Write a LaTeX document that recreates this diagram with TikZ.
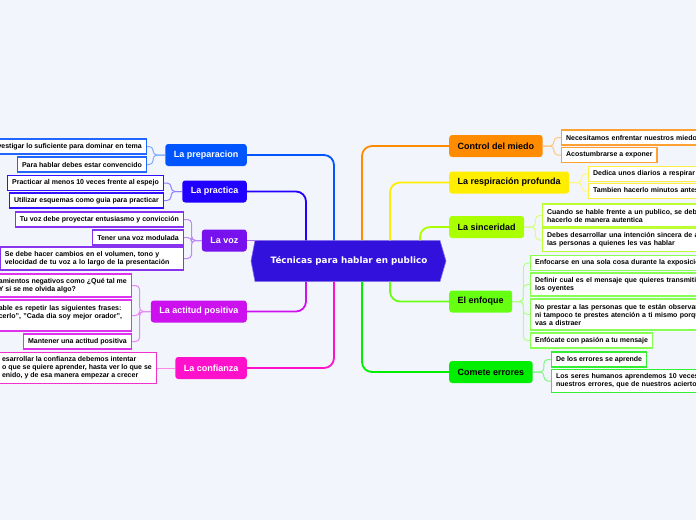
\documentclass[tikz,border=0pt]{standalone}
\usepackage{fontspec}
\setmainfont{Liberation Sans}
\newfontfamily\cfont{DejaVu Sans}
\definecolor{bgc}{HTML}{F3F5FD}
\definecolor{centc}{HTML}{3311DD}
\definecolor{prepc}{HTML}{0055FF}\definecolor{prepl}{HTML}{2266FF}
\definecolor{pracc}{HTML}{2200FF}\definecolor{pracl}{HTML}{3311FF}
\definecolor{vozc}{HTML}{7711EE}\definecolor{vozl}{HTML}{8833EE}
\definecolor{actc}{HTML}{CC11EE}\definecolor{actl}{HTML}{DD33EE}
\definecolor{confc}{HTML}{FF11CC}\definecolor{confl}{HTML}{EE33CC}
\definecolor{ctrlc}{HTML}{FF8C00}\definecolor{ctrll}{HTML}{FFA033}
\definecolor{respc}{HTML}{FFEE00}\definecolor{respl}{HTML}{FFEE44}
\definecolor{sincc}{HTML}{AAFF00}\definecolor{sincl}{HTML}{BBFF33}
\definecolor{enfc}{HTML}{66FF11}\definecolor{enfl}{HTML}{88FF55}
\definecolor{errc}{HTML}{00EE00}\definecolor{errl}{HTML}{33EE33}
\tikzset{
  branch/.style={fill=#1, rounded corners=3, minimum height=22, inner xsep=8.5, inner ysep=0, font=\fontsize{9}{10}\selectfont\bfseries},
  lbranch/.style={branch=#1, text=white},
  rbranch/.style={branch=#1, text=black},
  leaf/.style={draw=#1, fill=white, line width=1.3, inner xsep=4.5, inner ysep=0, font=\fontsize{7}{8}\selectfont\bfseries, align=left, text=black},
  trunk/.style={draw=#1, line width=1.8, rounded corners=10},
  twig/.style={draw=#1!50!white, line width=1, rounded corners=4},
}
\begin{document}
\begin{tikzpicture}[x=1pt,y=-1pt]
\useasboundingbox (0,0) rectangle (696,520);
\fill[bgc] (0,0) rectangle (696,520);
% central hexagon
\coordinate (cc) at (349,261);
\fill[centc, draw=centc!60!white, line width=0.6, shift={(cc)}] (-98,0) -- (-94,-20.5) -- (91,-20.5) -- (97,0) -- (91,20.5) -- (-94,20.5) -- cycle;
\node[font=\cfont\bfseries\fontsize{8.8}{10}\selectfont, text=white, minimum width=194, minimum height=41, inner sep=0] (c) at (cc) {Técnicas para hablar en publico};
\coordinate (vz) at ([xshift=5]c.north west);
% left branches
\node[lbranch=prepc, anchor=east] (nprep) at (247,155) {La preparacion};
\node[lbranch=pracc, anchor=east] (nprac) at (247,191.5) {La practica};
\node[lbranch=vozc, anchor=east] (nvoz) at (247,240.5) {La voz};
\node[lbranch=actc, anchor=east] (nact) at (247,311.5) {La actitud positiva};
\node[lbranch=confc, anchor=east] (nconf) at (247,368) {La confianza};
% right branches
\node[rbranch=ctrlc, anchor=west] (nctrl) at (449,146) {Control del miedo};
\node[rbranch=respc, anchor=west] (nresp) at (449,182.5) {La respiración profunda};
\node[rbranch=sincc, anchor=west] (nsinc) at (449,227) {La sinceridad};
\node[rbranch=enfc, anchor=west] (nenf) at (449,301.5) {El enfoque};
\node[rbranch=errc, anchor=west] (nerr) at (449,372) {Comete errores};
% left leaves
\node[leaf=prepl, anchor=east, minimum height=15] (p1) at (147,146.5) {Investigar lo suficiente para dominar en tema};
\node[leaf=prepl, anchor=east, minimum height=15] (p2) at (147,164.5) {Para hablar debes estar convencido};
\node[leaf=pracl, anchor=east, minimum height=15] (pr1) at (164,183) {Practicar al menos 10 veces frente al espejo};
\node[leaf=pracl, anchor=east, minimum height=15] (pr2) at (164,200.5) {Utilizar esquemas como guia para practicar};
\node[leaf=vozl, anchor=east, minimum height=15] (v1) at (184,219.5) {Tu voz debe proyectar entusiasmo y convicción};
\node[leaf=vozl, anchor=east, minimum height=15] (v2) at (184,237.5) {Tener una voz modulada};
\node[leaf=vozl, anchor=east, minimum height=23, text width=174] (v3) at (184,258.5) {Se debe hacer cambios en el volumen, tono y\\velocidad de tu voz a lo largo de la presentación};
\node[leaf=actl, anchor=east, minimum height=23] (a1) at (132,285.5) {amientos negativos como ¿Qué tal me\\Y si se me olvida algo?};
\node[leaf=actl, anchor=east, minimum height=31, text width=128] (a2) at (132,315.5) {able es repetir las siguientes frases:\\cerlo", "Cada dia soy mejor orador",\\\mbox{}};
\node[leaf=actl, anchor=east, minimum height=15] (a3) at (132,341.5) {Mantener una actitud positiva};
\node[leaf=confl, anchor=east, minimum height=31] (cf1) at (157,368) {esarrollar la confianza debemos intentar\\o que se quiere aprender, hasta ver lo que se\hspace*{3pt}\\enido, y de esa manera empezar a crecer};
% right leaves
\node[leaf=ctrll, anchor=west, minimum height=15, text width=210] (c1) at (561,137.5) {Necesitamos enfrentar nuestros miedos};
\node[leaf=ctrll, anchor=west, minimum height=15] (c2) at (561,155) {Acostumbrarse a exponer};
\node[leaf=respl, anchor=west, minimum height=15, text width=210] (r1) at (588,174) {Dedica unos diarios a respirar profundamente};
\node[leaf=respl, anchor=west, minimum height=15, text width=210] (r2) at (588,191) {Tambien hacerlo minutos antes de exponer};
\node[leaf=sincl, anchor=west, minimum height=23, text width=210] (s1) at (542,215.5) {Cuando se hable frente a un publico, se debe\\hacerlo de manera autentica};
\node[leaf=sincl, anchor=west, minimum height=23, text width=210] (s2) at (542,240) {Debes desarrollar una intención sincera de ayudar a\\las personas a quienes les vas hablar};
\node[leaf=enfl, anchor=west, minimum height=15, text width=210] (e1) at (530,263) {Enfocarse en una sola cosa durante la exposición};
\node[leaf=enfl, anchor=west, minimum height=23, text width=210] (e2) at (530,284.5) {Definir cual es el mensaje que quieres transmitir a\\los oyentes};
\node[leaf=enfl, anchor=west, minimum height=31, text width=210] (e3) at (530,314.5) {No prestar a las personas que te están observando\\ni tampoco te prestes atención a ti mismo porque te\\vas a distraer};
\node[leaf=enfl, anchor=west, minimum height=15] (e4) at (530,340.5) {Enfócate con pasión a tu mensaje};
\node[leaf=errl, anchor=west, minimum height=15] (er1) at (551,359.5) {De los errores se aprende};
\node[leaf=errl, anchor=west, minimum height=23, text width=210] (er2) at (551,381) {Los seres humanos aprendemos 10 veces más de\\nuestros errores, que de nuestros aciertos};
% trunks
\draw[trunk=prepc] (nprep.east) -| ([xshift=-15]c.north);
\draw[trunk=pracc] (nprac.east) -| ([xshift=-43]c.north);
\draw[trunk=vozc!60!white, rounded corners=0] (nvoz.east) -- (nvoz.east -| vz);
\draw[trunk=actc] (nact.east) -| ([xshift=-43]c.south);
\draw[trunk=confc] (nconf.east) -| ([xshift=-15]c.south);
\draw[trunk=ctrlc] (nctrl.west) -| ([xshift=13]c.north);
\draw[trunk=respc] (nresp.west) -| ([xshift=41]c.north);
\draw[trunk=sincc] (nsinc.west) -| ([xshift=71]c.north);
\draw[trunk=enfc] (nenf.west) -| ([xshift=41]c.south);
\draw[trunk=errc] (nerr.west) -| ([xshift=13]c.south);
% twigs left
\foreach \l in {p1,p2}{\draw[twig=prepc] (\l.east) -| ([xshift=-12]nprep.west) -- (nprep.west);}
\foreach \l in {pr1,pr2}{\draw[twig=pracc] (\l.east) -| ([xshift=-11]nprac.west) -- (nprac.west);}
\foreach \l in {v1,v2,v3}{\draw[twig=vozc] (\l.east) -| ([xshift=-10]nvoz.west) -- (nvoz.west);}
\foreach \l in {a1,a2,a3}{\draw[twig=actc] (\l.east) -| ([xshift=-11]nact.west) -- (nact.west);}
\draw[twig=confc] (cf1.east) -- (nconf.west);
% twigs right
\foreach \l in {c1,c2}{\draw[twig=ctrlc] (\l.west) -| ([xshift=11]nctrl.east) -- (nctrl.east);}
\foreach \l in {r1,r2}{\draw[twig=respc] (\l.west) -| ([xshift=12]nresp.east) -- (nresp.east);}
\foreach \l in {s1,s2}{\draw[twig=sincc] (\l.west) -| ([xshift=11]nsinc.east) -- (nsinc.east);}
\foreach \l in {e1,e2,e3,e4}{\draw[twig=enfc] (\l.west) -| ([xshift=11]nenf.east) -- (nenf.east);}
\foreach \l in {er1,er2}{\draw[twig=errc] (\l.west) -| ([xshift=11]nerr.east) -- (nerr.east);}
\end{tikzpicture}
\end{document}
